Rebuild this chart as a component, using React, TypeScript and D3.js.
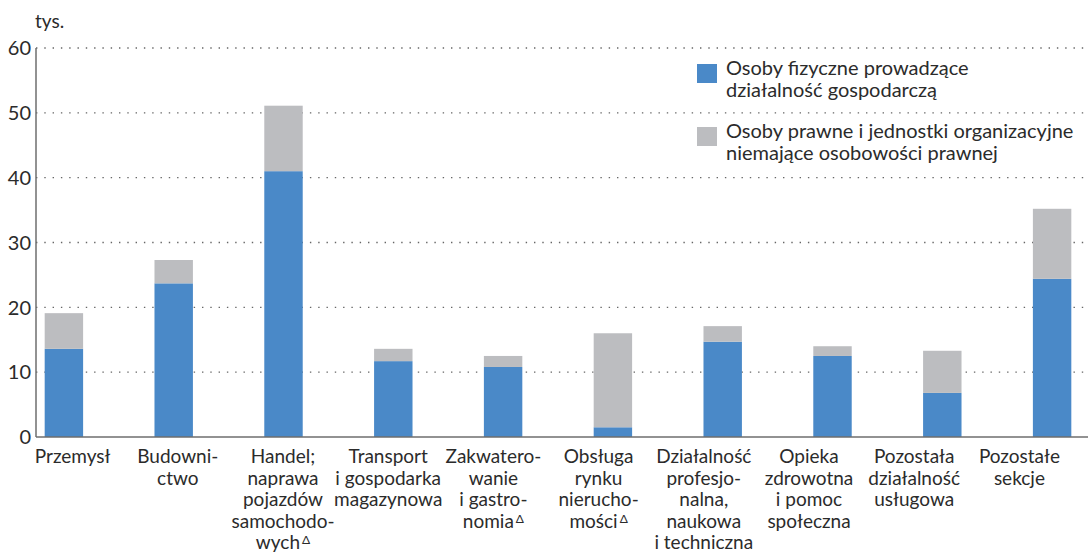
import React from "react";
import * as d3 from "d3";

// sections (label lines, "^" marks the superscript triangle)
const categories = [
  "Przemysł",
  "Budownictwo",
  "Handel",
  "Transport",
  "Zakwaterowanie",
  "Obsługa",
  "Działalność",
  "Opieka",
  "Pozostała",
  "Pozostałe",
];
const labelLines = [
  ["Przemysł"],
  ["Budowni-", "ctwo"],
  ["Handel;", "naprawa", "pojazdów", "samochodo-", "wych^"],
  ["Transport", "i gospodarka", "magazynowa"],
  ["Zakwatero-", "wanie", "i gastro-", "nomia^"],
  ["Obsługa", "rynku", "nierucho-", "mości^"],
  ["Działalność", "profesjo-", "nalna,", "naukowa", "i techniczna"],
  ["Opieka", "zdrowotna", "i pomoc", "społeczna"],
  ["Pozostała", "działalność", "usługowa"],
  ["Pozostałe", "sekcje"],
];
const natural = [13.6, 23.7, 41.0, 11.7, 10.8, 1.5, 14.7, 12.5, 6.8, 24.4];
const legal = [5.5, 3.6, 10.1, 1.9, 1.7, 14.5, 2.4, 1.5, 6.5, 10.8];
const yTicks = [0, 10, 20, 30, 40, 50, 60];
const legendLines = [
  ["Osoby fizyczne prowadzące", "działalność gospodarczą"],
  ["Osoby prawne i jednostki organizacyjne", "niemające osobowości prawnej"],
];

const colors = ["#4a89c8", "#bcbdc0"];
const font = "Lato, 'Open Sans', sans-serif";
const textColor = "#2b2b2b";

const width = 1088;
const height = 554;
const margin = { top: 48, left: 36, right: 0, bottom: 117 };

export default function App() {
  const y = d3
    .scaleLinear()
    .domain([0, 60])
    .range([height - margin.bottom, margin.top]);

  const x = d3.scaleBand().domain(categories).range([9, 1107]).paddingInner(0.65).paddingOuter(0.325);
  const xLabel = d3.scaleBand().domain(categories).range([20, 1072]);

  const rows = categories.map((c, i) => ({ cat: c, natural: natural[i], legal: legal[i] }));
  const series = d3.stack<any>().keys(["natural", "legal"])(rows);

  const x0 = margin.left;
  const x1 = width - margin.right;

  return (
    <svg
      width={width}
      height={height}
      style={{ position: "absolute", left: 0, top: 0, background: "#fff" }}
      fontFamily={font}
    >
      {/* grid */}
      {yTicks.filter((t) => t > 0).map((t) => (
        <line
          key={t}
          x1={x0}
          x2={x1}
          y1={y(t)}
          y2={y(t)}
          stroke="#666"
          strokeWidth={1.3}
          strokeDasharray="1.4 6.9"
        />
      ))}

      {/* bars */}
      {series.map((s, si) => (
        <g key={s.key} fill={colors[si]}>
          {s.map((d) => (
            <rect
              key={d.data.cat}
              x={x(d.data.cat)}
              y={y(d[1])}
              width={x.bandwidth()}
              height={y(d[0]) - y(d[1])}
            />
          ))}
        </g>
      ))}

      {/* axes */}
      <line x1={x0} x2={x0} y1={y(60)} y2={y(0)} stroke="#6e6e6e" strokeWidth={1.5} />
      <line x1={x0} x2={x1} y1={y(0)} y2={y(0)} stroke="#6e6e6e" strokeWidth={1.5} />

      {yTicks.map((t) => (
        <text key={t} x={31} y={y(t)} dy="0.36em" textAnchor="end" fontSize={20} fill={textColor}>
          {t}
        </text>
      ))}
      <text x={35} y={28} fontSize={19} fill={textColor}>
        tys.
      </text>

      {/* category labels */}
      {labelLines.map((lines, i) => {
        const cx = (xLabel(categories[i]) ?? 0) + xLabel.bandwidth() / 2;
        return (
          <text key={i} x={cx} y={463} textAnchor="middle" fontSize={19} fill={textColor}>
            {lines.map((ln, j) => {
              const sup = ln.endsWith("^");
              return (
                <tspan key={j} x={cx} dy={j === 0 ? 0 : 21.5}>
                  {sup ? ln.slice(0, -1) : ln}
                  {sup && (
                    <tspan fontSize={12} dx={2} baselineShift="45%">
                      Δ
                    </tspan>
                  )}
                </tspan>
              );
            })}
          </text>
        );
      })}

      {/* legend */}
      {legendLines.map((lines, i) => (
        <g key={i} transform={`translate(697,${64 + i * 63})`}>
          <rect width={20} height={19} fill={colors[i]} />
          <text x={29} y={11} fontSize={20} fill={textColor}>
            {lines.map((ln, j) => (
              <tspan key={j} x={29} dy={j === 0 ? 0 : 22}>
                {ln}
              </tspan>
            ))}
          </text>
        </g>
      ))}
    </svg>
  );
}
